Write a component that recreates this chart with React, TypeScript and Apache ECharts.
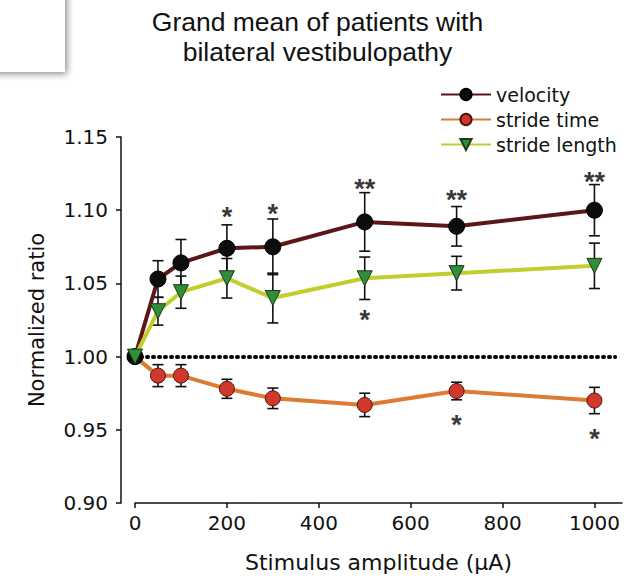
import React, { useEffect, useRef } from "react";
import * as echarts from "echarts";

const amplitudes = [0, 50, 100, 200, 300, 500, 700, 1000];
const velocity = [1.0, 1.053, 1.064, 1.074, 1.075, 1.092, 1.089, 1.1];
const velocityErr = [0, 0.0125, 0.016, 0.016, 0.019, 0.02, 0.0135, 0.0175];
const strideTime = [1.0, 0.987, 0.987, 0.978, 0.9715, 0.967, 0.9765, 0.97];
const strideTimeErr = [0, 0.0075, 0.0075, 0.0065, 0.007, 0.008, 0.006, 0.009];
const strideLength = [1.0, 1.031, 1.044, 1.0535, 1.04, 1.0535, 1.057, 1.062];
const strideLengthErr = [0, 0.0095, 0.011, 0.0135, 0.017, 0.0145, 0.0115, 0.0155];

const sigX = [200, 300, 500, 700, 1000, 500, 700, 1000];
const sigY = [1.1, 1.102, 1.119, 1.1117, 1.124, 1.0298, 0.958, 0.9485];
const sigText = ["*", "*", "**", "**", "**", "*", "*", "*"];

const xTicks = [0, 200, 400, 600, 800, 1000];
const yTicks = [0.9, 0.95, 1.0, 1.05, 1.1, 1.15];
const referenceLevel = 1.0;

const FONT = "Liberation Sans, Arial, Helvetica, sans-serif";
const WIDE = "DejaVu Sans, Verdana, sans-serif";

function errData(values: number[], errs: number[]) {
  const out: number[][] = [];
  values.forEach((v, i) => {
    if (errs[i] > 0) out.push([amplitudes[i], v - errs[i], v + errs[i]]);
  });
  return out;
}

function errSeries(name: string, values: number[], errs: number[]) {
  return {
    type: "custom",
    name: name + "-err",
    z: 1,
    silent: true,
    data: errData(values, errs),
    encode: { x: 0, y: [1, 2] },
    renderItem: (params: any, api: any) => {
      const x = api.value(0);
      const lo = api.coord([x, api.value(1)]);
      const hi = api.coord([x, api.value(2)]);
      const hw = 5.5;
      const st = { stroke: "#111", lineWidth: 1.6 };
      return {
        type: "group",
        children: [
          { type: "line", shape: { x1: lo[0], y1: lo[1], x2: hi[0], y2: hi[1] }, style: st },
          { type: "line", shape: { x1: lo[0] - hw, y1: lo[1], x2: lo[0] + hw, y2: lo[1] }, style: st },
          { type: "line", shape: { x1: hi[0] - hw, y1: hi[1], x2: hi[0] + hw, y2: hi[1] }, style: st },
        ],
      };
    },
  };
}

export default function App() {
  const ref = useRef<HTMLDivElement>(null);
  useEffect(() => {
    if (!ref.current) return;
    const chart = echarts.init(ref.current, undefined, { renderer: "svg" });
    const pairs = (vals: number[]) => amplitudes.map((a, i) => [a, vals[i]]);
    chart.setOption({
      animation: false,
      backgroundColor: "#fff",
      graphic: [
        {
          type: "rect",
          shape: { x: -10, y: -10, width: 75, height: 82 },
          style: {
            fill: "#fff",
            shadowBlur: 7,
            shadowColor: "rgba(0,0,0,0.45)",
            shadowOffsetX: 2,
            shadowOffsetY: 2,
          },
          z: 100,
        },
      ],
      title: {
        text: "Grand mean of patients with\nbilateral vestibulopathy",
        left: "center",
        top: 2,
        textStyle: {
          fontFamily: FONT,
          fontSize: 26.5,
          fontWeight: "normal",
          color: "#111",
          lineHeight: 30,
        },
      },
      legend: {
        orient: "vertical",
        left: 435,
        top: 80,
        itemWidth: 50,
        itemHeight: 14,
        itemGap: 6,
        data: ["velocity", "stride time", "stride length"],
        textStyle: { fontFamily: WIDE, fontSize: 19, lineHeight: 18, color: "#111" },
      },
      grid: { left: 135, right: 13, top: 137, bottom: 78, containLabel: false },
      xAxis: {
        type: "value",
        min: 0,
        max: 1060,
        interval: 200,
        name: "Stimulus amplitude (\u03bcA)",
        nameLocation: "middle",
        nameGap: 48,
        nameTextStyle: { fontFamily: WIDE, fontSize: 22, color: "#111" },
        axisLine: { onZero: false, lineStyle: { color: "#111", width: 1.5 } },
        axisTick: { show: true, length: 5, customValues: xTicks, lineStyle: { color: "#111", width: 1.5 } },
        axisLabel: {
          customValues: xTicks,
          margin: 10,
          fontFamily: WIDE,
          fontSize: 20,
          color: "#111",
          formatter: (v: number) => String(v),
        },
        splitLine: { show: false },
      },
      yAxis: {
        type: "value",
        min: 0.9,
        max: 1.15,
        interval: 0.05,
        offset: 14,
        name: "Normalized ratio",
        nameLocation: "middle",
        nameGap: 74,
        nameTextStyle: { fontFamily: WIDE, fontSize: 21, color: "#111" },
        axisLine: { show: true, onZero: false, lineStyle: { color: "#111", width: 1.5 } },
        axisTick: { show: true, length: 5, lineStyle: { color: "#111", width: 1.5 } },
        axisLabel: {
          customValues: yTicks,
          margin: 13,
          fontFamily: WIDE,
          fontSize: 20,
          color: "#111",
          formatter: (v: number) => v.toFixed(2),
        },
        splitLine: { show: false },
      },
      series: [
        errSeries("velocity", velocity, velocityErr),
        errSeries("stride time", strideTime, strideTimeErr),
        errSeries("stride length", strideLength, strideLengthErr),
        {
          type: "line",
          name: "stride time",
          z: 3,
          data: pairs(strideTime),
          symbol: "circle",
          symbolSize: 15,
          lineStyle: { color: "#dd7b33", width: 4 },
          itemStyle: { color: "#d1372b", borderColor: "#4a1810", borderWidth: 1 },
          markLine: {
            silent: true,
            symbol: "none",
            label: { show: false },
            lineStyle: { color: "#000", type: [1, 5], width: 4, cap: "round" },
            data: [[{ coord: [0, referenceLevel] }, { coord: [1045, referenceLevel] }]],
          },
        },
        {
          type: "line",
          name: "velocity",
          z: 4,
          data: pairs(velocity),
          symbol: "circle",
          symbolSize: 16,
          lineStyle: { color: "#5c1618", width: 4 },
          itemStyle: { color: "#0d0d0d", borderColor: "#000", borderWidth: 1 },
        },
        {
          type: "line",
          name: "stride length",
          z: 5,
          data: pairs(strideLength),
          symbol: "triangle",
          symbolRotate: 180,
          symbolSize: 15,
          lineStyle: { color: "#c2cd2f", width: 4 },
          itemStyle: { color: "#2f8d3b", borderColor: "#1c3a18", borderWidth: 1 },
        },
        {
          type: "scatter",
          name: "sig",
          z: 6,
          silent: true,
          symbolSize: 0,
          data: sigX.map((x, i) => ({ value: [x, sigY[i]], name: sigText[i] })),
          label: {
            show: true,
            position: "inside",
            offset: [0, 7],
            formatter: (p: any) => p.name,
            fontFamily: FONT,
            fontSize: 27,
            fontWeight: "bold",
            color: "#000",
          },
        },
      ],
    });
    return () => chart.dispose();
  }, []);
  return (
    <div
      ref={ref}
      style={{ position: "fixed", left: 0, top: 0, width: 635, height: 581 }}
    />
  );
}
